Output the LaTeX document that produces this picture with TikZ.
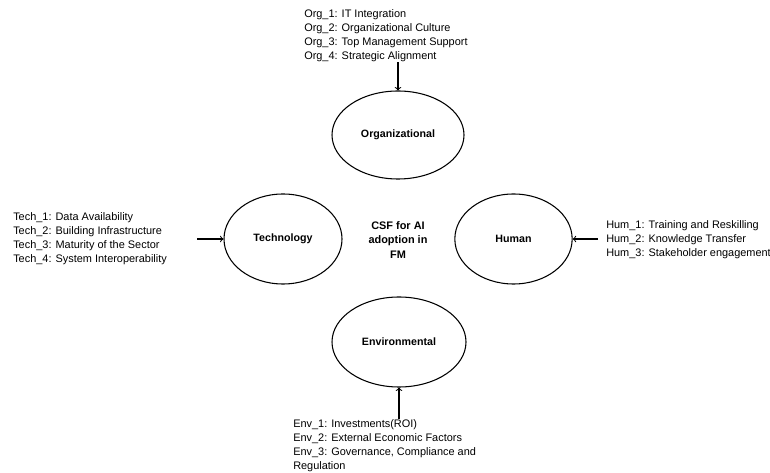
\documentclass[tikz,border=0pt]{standalone}
\usepackage{fontspec}
\setmainfont{Liberation Sans}
\usetikzlibrary{shapes.geometric}
\tikzset{
    factor/.style={draw,ellipse,line width=0.8pt,inner sep=0pt,font=\fontsize{8}{9.6}\selectfont\bfseries},
    items/.style={align=left,inner sep=0pt,anchor=west},
}

\begin{document}
\begin{tikzpicture}[x=0.75pt,y=-0.75pt,font=\fontsize{8.2}{10.6}\selectfont]
    \useasboundingbox (0,0) rectangle (770,473);
    % the four dimensions
    \node[factor,minimum width=99pt,minimum height=66pt] (org) at (398,135) {Organizational};
    \node[factor,minimum width=88.5pt,minimum height=67.5pt] (tech) at (283,239) {Technology};
    \node[factor,minimum width=88pt,minimum height=67.5pt] (hum) at (513.5,239) {Human};
    \node[factor,minimum width=100.5pt,minimum height=67.5pt] (env) at (399,342) {Environmental};
    \node[align=center,font=\fontsize{8.2}{11.2}\selectfont\bfseries] (csf) at (398,240) {CSF for AI\\adoption in\\FM};
    % factor lists
    \node[items] (orgtxt) at (304,35.5) {Org\_1: IT Integration\\Org\_2: Organizational Culture\\Org\_3: Top Management Support\\Org\_4: Strategic Alignment};
    \node[items] (techtxt) at (13,238.5) {Tech\_1: Data Availability\\Tech\_2: Building Infrastructure\\Tech\_3: Maturity of the Sector\\Tech\_4: System Interoperability};
    \node[items] (humtxt) at (606,239.5) {Hum\_1: Training and Reskilling\\Hum\_2: Knowledge Transfer\\Hum\_3: Stakeholder engagement};
    \node[items] (envtxt) at (293,445.5) {Env\_1: Investments(ROI)\\Env\_2: External Economic Factors\\Env\_3: Governance, Compliance and\\Regulation};
    % arrows
    \coordinate (techin) at (197,239);
    \coordinate (humin) at (598,239);
    \draw[->,line width=0.8pt] (orgtxt.south -| org) -- (org.north);
    \draw[->,line width=0.8pt] (techin) -- (tech.west);
    \draw[->,line width=0.8pt] (humin) -- (hum.east);
    \draw[->,line width=0.8pt] (envtxt.north -| env) -- (env.south);
\end{tikzpicture}
\end{document}
